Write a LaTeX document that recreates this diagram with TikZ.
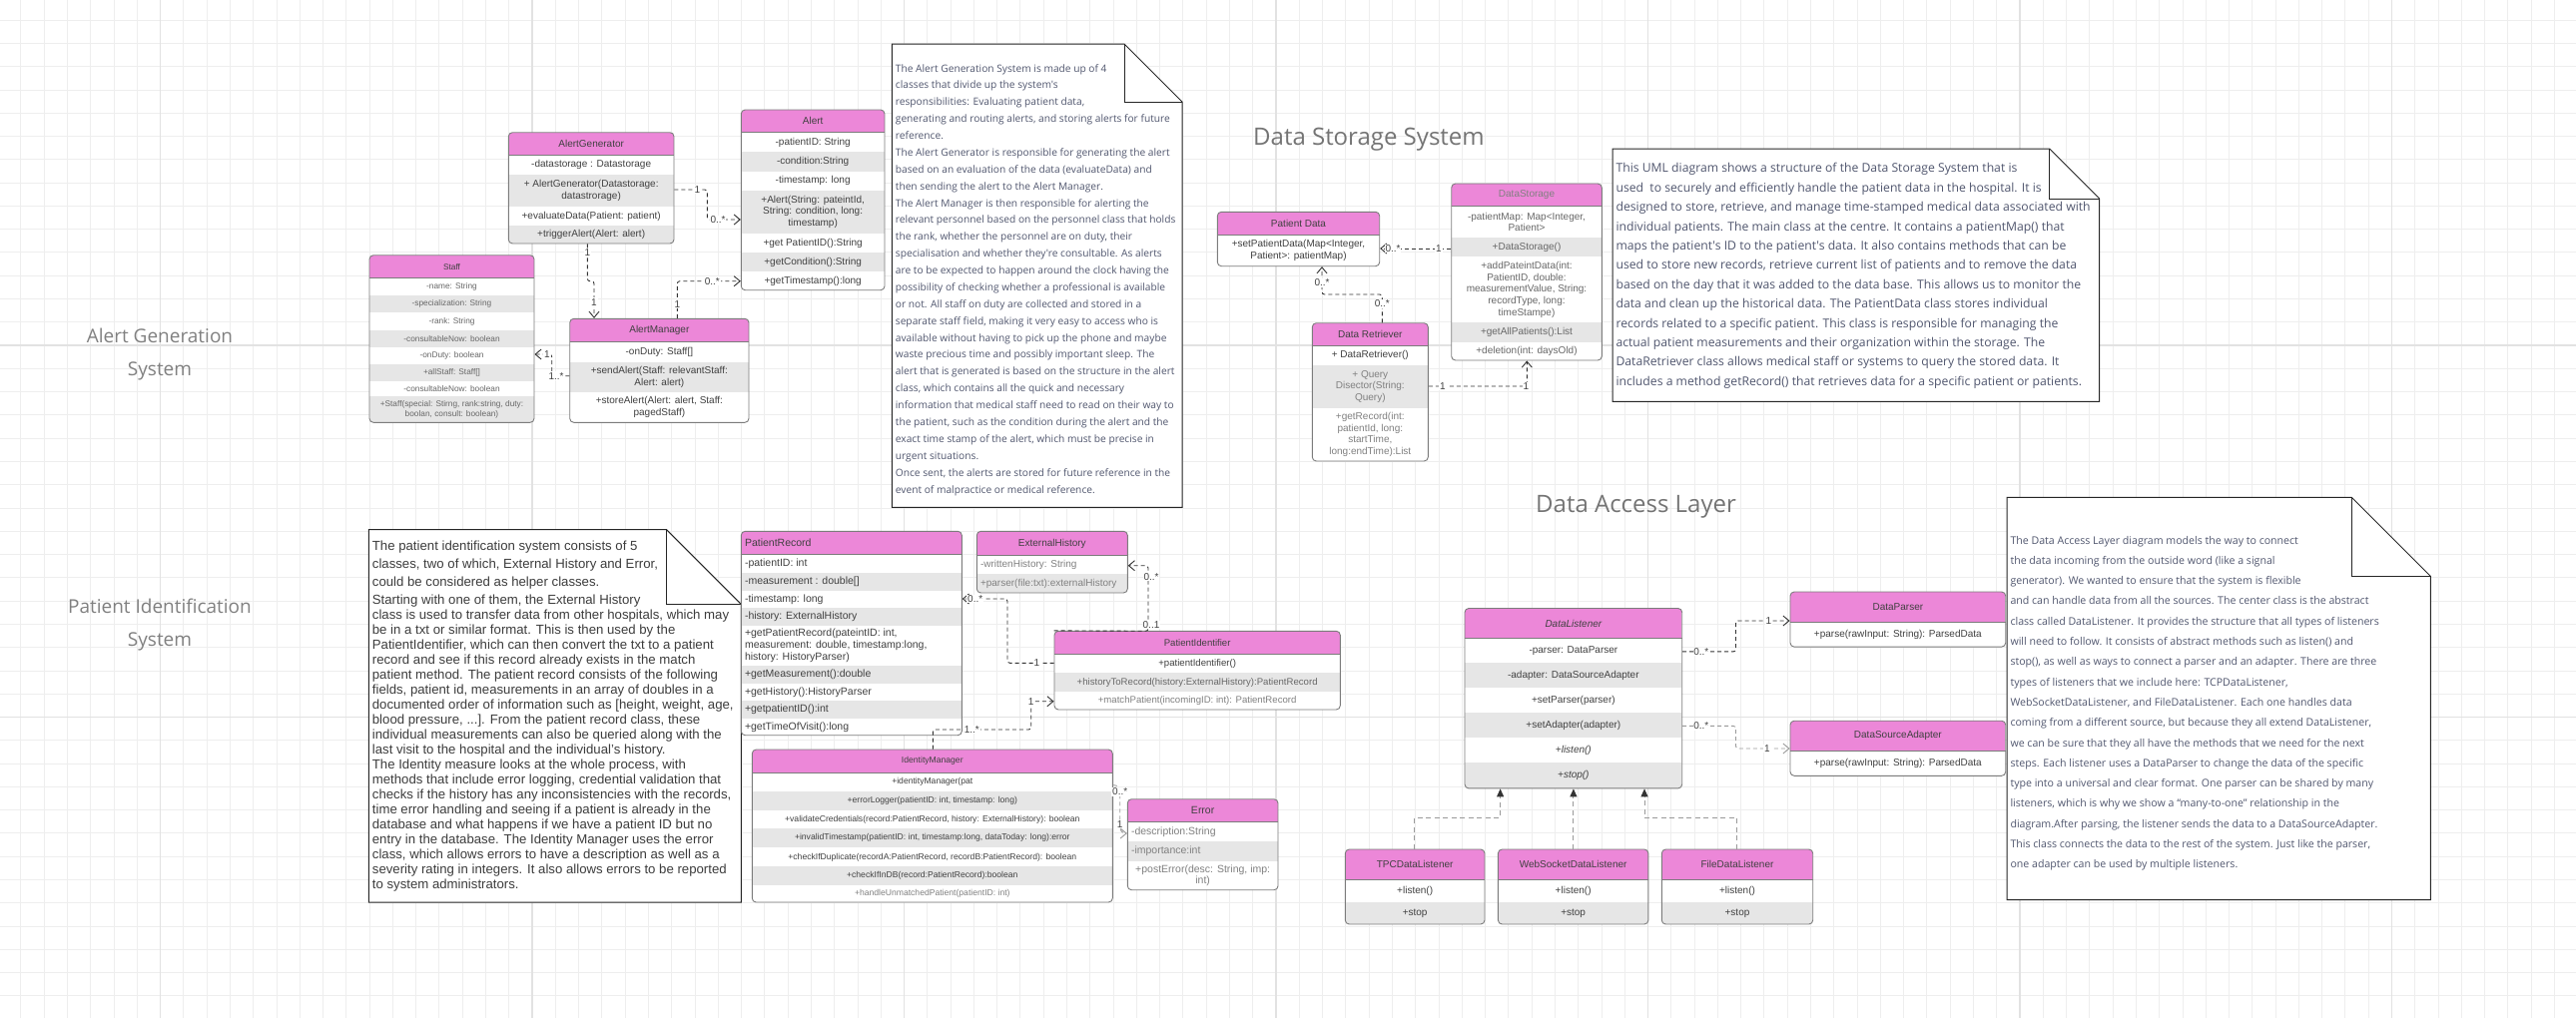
\documentclass[tikz,border=0pt]{standalone}
\usepackage{fontspec}
\setmainfont{Liberation Sans}
\newfontfamily\notefont{Open Sans}
\usetikzlibrary{arrows.meta,fit}

\definecolor{headpink}{HTML}{EC87D8}
\definecolor{rowgray}{HTML}{E6E6E6}
\definecolor{frame}{HTML}{7C7C7C}
\definecolor{ink}{HTML}{404040}
\definecolor{softink}{HTML}{808080}
\definecolor{noteink}{HTML}{50566E}
\definecolor{patink}{HTML}{3D3D3D}
\definecolor{titleink}{HTML}{747474}
\definecolor{gridminor}{HTML}{EEEEEE}
\definecolor{gridmajor}{HTML}{E2E2E2}
\definecolor{wire}{HTML}{333333}
\definecolor{softwire}{HTML}{9A9A9A}

\tikzset{
  classframe/.style={draw=frame, line width=0.9pt, rounded corners=4pt, inner sep=0pt},
  rowtxt/.style={inner sep=0pt, align=center, text=ink, font=\rowfont},
  conn/.style={draw=wire, line width=0.9pt, dash pattern=on 4pt off 3pt, rounded corners=2.5pt},
  softconn/.style={conn, draw=softwire},
  opentip/.style={-{Straight Barb[length=6pt,width=10pt,line width=0.9pt]}},
  gentip/.style={-{Triangle[length=8pt,width=7pt,color=wire]}},
  genconn/.style={draw=softwire, line width=0.9pt, dash pattern=on 5pt off 3.5pt},
  mult/.style={fill=white, inner sep=0.8pt, text=ink, font=\fontsize{10}{12}\selectfont},
  notebox/.style={fill=white, draw=black!85, line width=1pt, line join=miter},
  notetxt/.style={inner sep=0pt, anchor=north west, align=left},
  sectitle/.style={inner sep=0pt, text=titleink, align=center}
}

\def\rowfont{\fontsize{10}{11.7}\selectfont}
\newcount\txtno

% class frame: name, x1, y1, x2, y2, header bottom, gray rows (ya/yb list)
\newcommand\umlclass[7]{%
  \def\cxa{#2}\def\cxb{#4}%
  \begin{scope}
    \clip[rounded corners=4pt] (#2,#3) rectangle (#4,#5);
    \fill[white] (#2,#3) rectangle (#4,#5);
    \fill[headpink] (#2,#3) rectangle (#4,#6);
    \foreach \ya/\yb in {#7} {\fill[rowgray] (#2,\ya) rectangle (#4,\yb);}
  \end{scope}
  \draw[frame, line width=0.8pt] (#2,#6) -- (#4,#6);
  \node[classframe, fit={(#2,#3) (#4,#5)}] (#1) {};
}
% centred row text
\newcommand\row[4][]{%
  \global\advance\txtno by 1
  \node[rowtxt,#1] (t\the\txtno) at ({(\cxa+\cxb)/2},{(#2+#3)/2}) {#4};}
% left aligned row text
\newcommand\lrow[4][]{%
  \global\advance\txtno by 1
  \node[rowtxt,anchor=west,align=left,#1] (t\the\txtno) at ({\cxa+3.5},{(#2+#3)/2}) {#4};}
% note outline: x1, y1, x2, y2, fold
\newcommand\noteshape[5]{%
  \draw[notebox] (#1,#2) -- ({#3-#5},#2) -- (#3,{#2+#5}) -- (#3,#4) -- (#1,#4) -- cycle;
  \draw[notebox, fill=none] ({#3-#5},#2) -- ({#3-#5},{#2+#5}) -- (#3,{#2+#5});}

\begin{document}
\begin{tikzpicture}[x=1pt, y=-1pt]
\useasboundingbox (0,0) rectangle (2580,1020);
\fill[white] (0,0) rectangle (2580,1020);

% background grid
\foreach \i in {0,...,110} \draw[gridminor, line width=0.8pt] ({20.84+23.28*\i},0) -- ++(0,1020);
\foreach \i in {0,...,43} \draw[gridminor, line width=0.8pt] (0,{20.08+23.28*\i}) -- ++(2580,0);
\foreach \x in {160.5,533,905.5,1278,1650.5,2023,2395.5} \draw[gridmajor, line width=1.2pt] (\x,0) -- ++(0,1020);
\foreach \y in {346,718.5} \draw[gridmajor, line width=1.2pt] (0,\y) -- ++(2580,0);

% section titles
\node[sectitle, font=\notefont\fontsize{19}{33}\selectfont, text=softink] (ttlA) at (160,355) {Alert Generation\\System};
\node[sectitle, font=\notefont\fontsize{19}{33}\selectfont, text=softink] (ttlP) at (160,626) {Patient Identification\\System};
\node[sectitle, anchor=west, font=\notefont\fontsize{24}{28}\selectfont] (ttlD) at (1255,140) {Data Storage System};
\node[sectitle, anchor=west, font=\notefont\fontsize{24}{28}\selectfont] (ttlL) at (1538,508) {Data Access Layer};

% ---------------- notes ----------------
\noteshape{893.3}{44}{1184}{508.3}{58}
\node[notetxt, text=noteink, font=\notefont\fontsize{10.2}{16.88}\selectfont] (nAlert) at (896.7,64) {%
The Alert Generation System is made up of 4\\
classes that divide up the system's\\
responsibilities: Evaluating patient data,\\
generating and routing alerts, and storing alerts for future\\
reference.\\
The Alert Generator is responsible for generating the alert\\
based on an evaluation of the data (evaluateData) and\\
then sending the alert to the Alert Manager.\\
The Alert Manager is then responsible for alerting the\\
relevant personnel based on the personnel class that holds\\
the rank, whether the personnel are on duty, their\\
specialisation and whether they're consultable. As alerts\\
are to be expected to happen around the clock having the\\
possibility of checking whether a professional is available\\
or not. All staff on duty are collected and stored in a\\
separate staff field, making it very easy to access who is\\
available without having to pick up the phone and maybe\\
waste precious time and possibly important sleep. The\\
alert that is generated is based on the structure in the alert\\
class, which contains all the quick and necessary\\
information that medical staff need to read on their way to\\
the patient, such as the condition during the alert and the\\
exact time stamp of the alert, which must be precise in\\
urgent situations.\\
Once sent, the alerts are stored for future reference in the\\
event of malpractice or medical reference.};

\noteshape{1615}{149}{2102.7}{402.3}{50}
\node[notetxt, text=noteink, font=\notefont\fontsize{12.2}{19.4}\selectfont] (nStore) at (1618.3,163.4) {%
This UML diagram shows a structure of the Data Storage System that is\\
used\ \ to securely and efficiently handle the patient data in the hospital. It is\\
designed to store, retrieve, and manage time-stamped medical data associated with\\
individual patients. The main class at the centre. It contains a patientMap() that\\
maps the patient's ID to the patient's data. It also contains methods that can be\\
used to store new records, retrieve current list of patients and to remove the data\\
based on the day that it was added to the data base. This allows us to monitor the\\
data and clean up the historical data. The PatientData class stores individual\\
records related to a specific patient. This class is responsible for managing the\\
actual patient measurements and their organization within the storage. The\\
DataRetriever class allows medical staff or systems to query the stored data. It\\
includes a method getRecord() that retrieves data for a specific patient or patients.};

\noteshape{369.3}{530.5}{742.3}{904}{75}
\node[notetxt, text=patink, font=\fontsize{13.2}{15}\selectfont] (nPatient) at (372.7,541.4) {%
The patient identification system consists of 5\\[3pt]
classes, two of which, External History and Error,\\[3pt]
could be considered as helper classes.\\[3pt]
Starting with one of them, the External History\\
class is used to transfer data from other hospitals, which may\\
be in a txt or similar format. This is then used by the\\
PatientIdentifier, which can then convert the txt to a patient\\
record and see if this record already exists in the match\\
patient method. The patient record consists of the following\\
fields, patient id, measurements in an array of doubles in a\\
documented order of information such as [height, weight, age,\\
blood pressure, ...]. From the patient record class, these\\
individual measurements can also be queried along with the\\
last visit to the hospital and the individual's history.\\
The Identity measure looks at the whole process, with\\
methods that include error logging, credential validation that\\
checks if the history has any inconsistencies with the records,\\
time error handling and seeing if a patient is already in the\\
database and what happens if we have a patient ID but no\\
entry in the database. The Identity Manager uses the error\\
class, which allows errors to have a description as well as a\\
severity rating in integers. It also allows errors to be reported\\
to system administrators.};

\noteshape{2010}{498.3}{2434.3}{901.7}{79}
\node[notetxt, text=noteink, font=\notefont\fontsize{10.6}{20.3}\selectfont] (nAccess) at (2013.3,536.8) {%
The Data Access Layer diagram models the way to connect\\
the data incoming from the outside word (like a signal\\
generator). We wanted to ensure that the system is flexible\\
and can handle data from all the sources. The center class is the abstract\\
class called DataListener. It provides the structure that all types of listeners\\
will need to follow. It consists of abstract methods such as listen() and\\
stop(), as well as ways to connect a parser and an adapter. There are three\\
types of listeners that we include here: TCPDataListener,\\
WebSocketDataListener, and FileDataListener. Each one handles data\\
coming from a different source, but because they all extend DataListener,\\
we can be sure that they all have the methods that we need for the next\\
steps. Each listener uses a DataParser to change the data of the specific\\
type into a universal and clear format. One parser can be shared by many\\
listeners, which is why we show a “many-to-one” relationship in the\\
diagram.After parsing, the listener sends the data to a DataSourceAdapter.\\
This class connects the data to the rest of the system. Just like the parser,\\
one adapter can be used by multiple listeners.};

% ---------------- Alert Generation System ----------------
\def\rowfont{\fontsize{10}{11.7}\selectfont}
\umlclass{agen}{509.3}{132.7}{675}{244}{155.7}{175/207.3, 225.7/244}
\row{132.7}{155.7}{AlertGenerator}
\row{155.7}{175}{-datastorage : Datastorage}
\row{175}{207.3}{+ AlertGenerator(Datastorage:\\datastrorage)}
\row{207.3}{225.7}{+evaluateData(Patient: patient)}
\row{225.7}{244}{+triggerAlert(Alert: alert)}

\umlclass{alertc}{742.3}{110}{886}{290.7}{132.7}{152.3/171.7, 190.7/234, 253.3/272.3}
\row{110}{132.7}{Alert}
\row{132.7}{152.3}{-patientID: String}
\row{152.3}{171.7}{-condition:String}
\row{171.7}{190.7}{-timestamp: long}
\row{190.7}{234}{+Alert(String: pateintId,\\String: condition, long:\\timestamp)}
\row{234}{253.3}{+get PatientID():String}
\row{253.3}{272.3}{+getCondition():String}
\row{272.3}{290.7}{+getTimestamp():long}

\umlclass{amgr}{570.7}{319.3}{750}{423.3}{342.3}{363.3/392.7}
\row{319.3}{342.3}{AlertManager}
\row{342.3}{363.3}{-onDuty: Staff[]}
\row{363.3}{392.7}{+sendAlert(Staff: relevantStaff:\\Alert: alert)}
\row{392.7}{423.3}{+storeAlert(Alert: alert, Staff:\\pagedStaff)}

\def\rowfont{\fontsize{8.3}{10}\selectfont}
\umlclass{staff}{370}{255.7}{535}{423.3}{278.7}{296/313.3, 330.7/348, 364.7/381.7, 397.3/423.3}
\row{255.7}{278.7}{Staff}
\row[text=softink!80!black]{278.7}{296}{-name: String}
\row[text=softink!80!black]{296}{313.3}{-specialization: String}
\row[text=softink!80!black]{313.3}{330.7}{-rank: String}
\row[text=softink!80!black]{330.7}{348}{-consultableNow: boolean}
\row[text=softink!80!black]{348}{364.7}{-onDuty: boolean}
\row[text=softink!80!black]{364.7}{381.7}{+allStaff: Staff[]}
\row[text=softink!80!black]{381.7}{397.3}{-consultableNow: boolean}
\row[text=softink!80!black]{397.3}{423.3}{+Staff(special: Stirng, rank:string, duty:\\boolan, consult: boolean)}

% ---------------- Data Storage System ----------------
\def\rowfont{\fontsize{10}{11.7}\selectfont}
\umlclass{pdata}{1219.3}{212.3}{1381.7}{266.7}{235.3}{0/0}
\row{212.3}{235.3}{Patient Data}
\row{235.3}{266.7}{+setPatientData(Map<Integer,\\Patient>: patientMap)}

\umlclass{dstore}{1453.7}{184}{1604.3}{361}{206.7}{238.3/257.3, 323.3/342.7}
\row[text=softink]{184}{206.7}{DataStorage}
\row[text=softink!80!black]{206.7}{238.3}{-patientMap: Map<Integer,\\Patient>}
\row[text=softink!80!black]{238.3}{257.3}{+DataStorage()}
\row[text=softink!80!black]{257.3}{323.3}{+addPateintData(int:\\PatientID, double:\\measurementValue, String:\\recordType, long:\\timeStampe)}
\row[text=softink!80!black]{323.3}{342.7}{+getAllPatients():List}
\row[text=softink!80!black]{342.7}{361}{+deletion(int: daysOld)}

\umlclass{dret}{1314.3}{323.7}{1430.3}{462}{346.7}{366/408.7}
\row{323.7}{346.7}{Data Retriever}
\row{346.7}{366}{+ DataRetriever()}
\row[text=softink]{366}{408.7}{+ Query\\Disector(String:\\Query)}
\row[text=softink]{408.7}{462}{+getRecord(int:\\patientId, long:\\startTime,\\long:endTime):List}

% ---------------- Patient Identification System ----------------
\def\rowfont{\fontsize{10.5}{11.8}\selectfont}
\umlclass{precord}{742.3}{532.3}{963.3}{736.7}{555.7}{574.3/591.7, 609/626.7, 667.3/685, 702.3/720}
\lrow{532.3}{555.7}{PatientRecord}
\lrow{555.7}{574.3}{-patientID: int}
\lrow{574.3}{591.7}{-measurement : double[]}
\lrow{591.7}{609}{-timestamp: long}
\lrow{609}{626.7}{-history: ExternalHistory}
\lrow{626.7}{667.3}{+getPatientRecord(pateintID: int,\\measurement: double, timestamp:long,\\history: HistoryParser)}
\lrow{667.3}{685}{+getMeasurement():double}
\lrow{685}{702.3}{+getHistory():HistoryParser}
\lrow{702.3}{720}{+getpatientID():int}
\lrow{720}{736.7}{+getTimeOfVisit():long}

\def\rowfont{\fontsize{10}{11.7}\selectfont}
\umlclass{exthist}{978.3}{532.3}{1129.3}{594}{556.7}{575/594}
\row{532.3}{556.7}{ExternalHistory}
\lrow[text=softink]{556.7}{575}{-writtenHistory: String}
\lrow[text=softink]{575}{594}{+parser(file:txt):externalHistory}

\def\rowfont{\fontsize{9.6}{11.5}\selectfont}
\umlclass{pident}{1056}{632.3}{1342.3}{711}{655.7}{674.3/693.3}
\row{632.3}{655.7}{PatientIdentifier}
\row{655.7}{674.3}{+patientIdentifier()}
\row[text=softink!80!black]{674.3}{693.3}{+historyToRecord(history:ExternalHistory):PatientRecord}
\row[text=softink]{693.3}{711}{+matchPatient(incomingID: int): PatientRecord}

\def\rowfont{\fontsize{8.6}{10.5}\selectfont}
\umlclass{idmgr}{753.3}{751}{1114.3}{904}{774}{793.3/811.7, 830/849.3, 868.3/886.7}
\row{751}{774}{IdentityManager}
\row{774}{793.3}{+identityManager(pat}
\row{793.3}{811.7}{+errorLogger(patientID: int, timestamp: long)}
\row{811.7}{830}{+validateCredentials(record:PatientRecord, history: ExternalHistory): boolean}
\row{830}{849.3}{+invalidTimestamp(patientID: int, timestamp:long, dataToday: long):error}
\row{849.3}{868.3}{+checkIfDuplicate(recordA:PatientRecord, recordB:PatientRecord): boolean}
\row{868.3}{886.7}{+checkIfInDB(record:PatientRecord):boolean}
\row[text=softink]{886.7}{904}{+handleUnmatchedPatient(patientID: int)}

\def\rowfont{\fontsize{10.5}{11.8}\selectfont}
\umlclass{errc}{1129.3}{800.7}{1280}{891.7}{823.3}{843.3/862.7}
\row{800.7}{823.3}{Error}
\lrow[text=softink]{823.3}{843.3}{-description:String}
\lrow[text=softink]{843.3}{862.7}{-importance:int}
\row[text=softink]{862.7}{891.7}{+postError(desc: String, imp:\\int)}

% ---------------- Data Access Layer ----------------
\def\rowfont{\fontsize{10}{11.7}\selectfont}
\umlclass{dlist}{1467}{609.5}{1684.7}{789.9}{639.4}{664.3/689.2, 714.1/739, 764/789.9}
\row{609.5}{639.4}{\itshape DataListener}
\row{639.4}{664.3}{-parser: DataParser}
\row{664.3}{689.2}{-adapter: DataSourceAdapter}
\row{689.2}{714.1}{+setParser(parser)}
\row{714.1}{739}{+setAdapter(adapter)}
\row{739}{764}{\itshape +listen()}
\row{764}{789.9}{\itshape +stop()}

\umlclass{dparser}{1793}{593}{2008.7}{648.1}{623.4}{0/0}
\row{593}{623.4}{DataParser}
\row{623.4}{648.1}{+parse(rawInput: String): ParsedData}

\umlclass{dsrc}{1793}{722.2}{2008.7}{777.3}{752.2}{0/0}
\row{722.2}{752.2}{DataSourceAdapter}
\row{752.2}{777.3}{+parse(rawInput: String): ParsedData}

\umlclass{tpcl}{1347.3}{851}{1487}{926}{881}{904/926}
\row{851}{881}{TPCDataListener}
\row{881}{904}{+listen()}
\row{904}{926}{+stop}

\umlclass{wsl}{1500.4}{851}{1650.9}{926}{881}{904/926}
\row{851}{881}{WebSocketDataListener}
\row{881}{904}{+listen()}
\row{904}{926}{+stop}

\umlclass{fdl}{1664.3}{851}{1815.7}{926}{881}{904/926}
\row{851}{881}{FileDataListener}
\row{881}{904}{+listen()}
\row{904}{926}{+stop}

% ---------------- connectors ----------------
% alert generation
\draw[conn, opentip] (agen.east |- 0,190) -- (708.3,190) -- (708.3,220) -- (alertc.west |- 0,220);
\draw[conn, opentip] (588.3,0 |- agen.south) -- (588.3,281.7) -- (595,281.7) -- (595,0 |- amgr.north);
\draw[conn, opentip] (678.3,0 |- amgr.north) -- (678.3,281.7) -- (alertc.west |- 0,281.7);
\draw[conn, opentip] (amgr.west |- 0,376.7) -- (552.7,376.7) -- (552.7,355) -- (staff.east |- 0,355);
% data storage
\draw[conn, opentip] (dstore.west |- 0,249) -- (pdata.east |- 0,249);
\draw[conn, opentip] (1384.3,0 |- dret.north) -- (1384.3,295) -- (1324,295) -- (1324,0 |- pdata.south);
\draw[conn, opentip] (dret.east |- 0,387) -- (1529.3,387) -- (1529.3,0 |- dstore.south);
% patient identification
\draw[conn, opentip] (pident.west |- 0,664.3) -- (1009,664.3) -- (1009,600) -- (precord.east |- 0,600);
\draw[conn, opentip] (934.3,0 |- idmgr.north) -- (934.3,731) -- (1032.7,731) -- (1032.7,702.7) -- (pident.west |- 0,702.7);
\draw[conn, opentip] (pident.north west) -- (1150,632.3) -- (1150,566.7) -- (exthist.east |- 0,566.7);
\draw[softconn, opentip, rounded corners=6pt] (idmgr.east |- 0,786.7) -- (1121.7,786.7) -- (1121.7,835) -- (errc.west |- 0,835);
% data access
\draw[conn, opentip] (dlist.east |- 0,652.9) -- (1738.5,652.9) -- (1738.5,622) -- (dparser.west |- 0,622);
\draw[softconn, opentip] (dlist.east |- 0,727.4) -- (1738.5,727.4) -- (1738.5,750) -- (dsrc.west |- 0,750);
\draw[genconn, gentip] (1416.7,0 |- tpcl.north) -- (1416.7,819.4) -- (1502.6,819.4) -- (1502.6,0 |- dlist.south);
\draw[genconn, gentip] (1575.9,0 |- wsl.north) -- (1575.9,0 |- dlist.south);
\draw[genconn, gentip] (1739.8,0 |- fdl.north) -- (1739.8,819.4) -- (1647,819.4) -- (1647,0 |- dlist.south);

% ---------------- multiplicities ----------------
\node[mult] (m1) at (698.3,190) {1};
\node[mult] (m2) at (719,220) {0..*};
\node[mult] (m3) at (588.3,253.3) {1};
\node[mult] (m4) at (595,302.7) {1};
\node[mult] (m5) at (678.3,305) {1};
\node[mult] (m6) at (713.3,281.7) {0..*};
\node[mult] (m7) at (557,376.7) {1..*};
\node[mult] (m8) at (548,355) {1};
\node[mult] (m9) at (1395,249) {0..*};
\node[mult] (m10) at (1441,249) {1};
\node[mult] (m11) at (1384.3,304.5) {0..*};
\node[mult] (m12) at (1324,283.3) {0..*};
\node[mult] (m13) at (1445,387) {1};
\node[mult] (m14) at (1528.3,387) {1};
\node[mult] (m15) at (1038.3,664.3) {1};
\node[mult] (m16) at (976.7,600) {0..*};
\node[mult] (m17) at (973.3,731) {1..*};
\node[mult] (m18) at (1032.7,702.7) {1};
\node[mult] (m19) at (1153,578) {0..*};
\node[mult] (m20) at (1153,626) {0..1};
\node[mult] (m21) at (1121.7,793.3) {0..*};
\node[mult] (m22) at (1121.7,826) {1};
\node[mult] (m23) at (1703.8,652.9) {0..*};
\node[mult] (m24) at (1771.5,622) {1};
\node[mult] (m25) at (1703.8,727.4) {0..*};
\node[mult] (m26) at (1770,750) {1};
\end{tikzpicture}
\end{document}
